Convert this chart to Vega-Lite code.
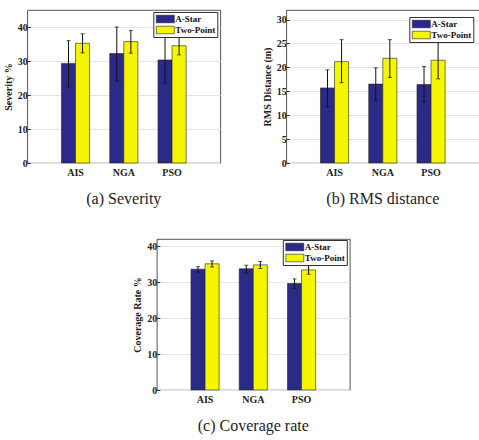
{
  "$schema": "https://vega.github.io/schema/vega-lite/v6.json",
  "padding": {"left": 2, "top": 9, "right": 0, "bottom": 0},
  "background": "white",
  "datasets": {
    "d": [
      {"panel": "a", "alg": "AIS", "series": "A-Star", "value": 29.3, "lo": 22.4, "hi": 36.0},
      {"panel": "a", "alg": "AIS", "series": "Two-Point", "value": 35.2, "lo": 32.4, "hi": 38.0},
      {"panel": "a", "alg": "NGA", "series": "A-Star", "value": 32.2, "lo": 24.1, "hi": 40.0},
      {"panel": "a", "alg": "NGA", "series": "Two-Point", "value": 35.7, "lo": 32.3, "hi": 39.0},
      {"panel": "a", "alg": "PSO", "series": "A-Star", "value": 30.3, "lo": 23.5, "hi": 37.1},
      {"panel": "a", "alg": "PSO", "series": "Two-Point", "value": 34.5, "lo": 31.8, "hi": 37.1},
      {"panel": "b", "alg": "AIS", "series": "A-Star", "value": 15.7, "lo": 11.8, "hi": 19.5},
      {"panel": "b", "alg": "AIS", "series": "Two-Point", "value": 21.2, "lo": 16.8, "hi": 25.8},
      {"panel": "b", "alg": "NGA", "series": "A-Star", "value": 16.5, "lo": 13.0, "hi": 19.9},
      {"panel": "b", "alg": "NGA", "series": "Two-Point", "value": 21.9, "lo": 17.9, "hi": 25.8},
      {"panel": "b", "alg": "PSO", "series": "A-Star", "value": 16.4, "lo": 12.75, "hi": 20.2},
      {"panel": "b", "alg": "PSO", "series": "Two-Point", "value": 21.5, "lo": 17.6, "hi": 25.4},
      {"panel": "c", "alg": "AIS", "series": "A-Star", "value": 33.6, "lo": 32.8, "hi": 34.3},
      {"panel": "c", "alg": "AIS", "series": "Two-Point", "value": 35.1, "lo": 34.2, "hi": 35.9},
      {"panel": "c", "alg": "NGA", "series": "A-Star", "value": 33.7, "lo": 32.5, "hi": 34.7},
      {"panel": "c", "alg": "NGA", "series": "Two-Point", "value": 34.8, "lo": 33.8, "hi": 35.75},
      {"panel": "c", "alg": "PSO", "series": "A-Star", "value": 29.6, "lo": 28.2, "hi": 30.9},
      {"panel": "c", "alg": "PSO", "series": "Two-Point", "value": 33.4, "lo": 32.2, "hi": 34.6}
    ]
  },
  "config": {
    "view": {"stroke": "#2a2a2a", "strokeWidth": 0.8},
    "axis": {
      "labelFont": "Liberation Serif", "labelFontWeight": "bold", "labelFontSize": 10, "labelColor": "#222",
      "titleFont": "Liberation Serif", "titleFontWeight": "bold", "titleFontSize": 10, "titleColor": "#222",
      "domain": false, "tickColor": "#2a2a2a", "labelOverlap": false
    },
    "axisX": {"grid": false, "ticks": false, "labelPadding": 4, "labelAngle": 0, "title": null},
    "axisY": {"grid": true, "gridColor": "#e4e4e4", "tickSize": -3, "labelPadding": 3, "titlePadding": 4},
    "legend": {
      "orient": "none", "fillColor": "white", "strokeColor": "#333", "padding": 2,
      "symbolType": "M-2,-0.84H2V0.84H-2Z", "symbolSize": 81, "symbolOffset": 5, "symbolStrokeColor": "#222", "symbolStrokeWidth": 0.6, "symbolOpacity": 1,
      "labelFont": "Liberation Serif", "labelFontWeight": "bold", "labelFontSize": 9, "labelColor": "#111",
      "rowPadding": 1, "labelOffset": 5, "title": null
    },
    "tick": {"color": "#111", "thickness": 1, "size": 4},
    "title": {"font": "Liberation Serif", "fontSize": 16, "fontWeight": "normal", "color": "#222", "orient": "bottom", "offset": 14}
  },
  "vconcat": [
    {
      "hconcat": [
        {
          "width": 193, "height": 153,
          "title": {"text": "(a) Severity"},
          "data": {"name": "d"},
          "transform": [{"filter": "datum.panel === 'a'"}],
          "encoding": {
            "x": {"field": "alg", "type": "nominal", "scale": {"paddingInner": 0.417, "paddingOuter": 0.708}},
            "xOffset": {"field": "series", "type": "nominal", "scale": {"paddingInner": 0, "paddingOuter": 0}}
          },
          "layer": [
            {
              "mark": {"type": "bar", "stroke": "#222", "strokeWidth": 0.6},
              "encoding": {
                "y": {"field": "value", "type": "quantitative", "scale": {"domain": [0, 45], "nice": false}, "axis": {"values": [0, 10, 20, 30, 40], "title": "Severity %"}},
                "color": {"field": "series", "type": "nominal", "scale": {"range": ["#2c2a88", "#f5f500"]}, "legend": {"legendX": 126, "legendY": 2}}
              }
            },
            {
              "mark": {"type": "rule", "color": "#111", "strokeWidth": 1},
              "encoding": {"y": {"field": "lo", "type": "quantitative", "axis": {"values": [0, 10, 20, 30, 40], "title": "Severity %"}}, "y2": {"field": "hi"}}
            },
            {"mark": "tick", "encoding": {"y": {"field": "lo", "type": "quantitative", "axis": {"values": [0, 10, 20, 30, 40], "title": "Severity %"}}}},
            {"mark": "tick", "encoding": {"y": {"field": "hi", "type": "quantitative", "axis": {"values": [0, 10, 20, 30, 40], "title": "Severity %"}}}}
          ]
        },
        {
          "width": 193, "height": 153,
          "title": {"text": "(b) RMS distance"},
          "data": {"name": "d"},
          "transform": [{"filter": "datum.panel === 'b'"}],
          "encoding": {
            "x": {"field": "alg", "type": "nominal", "scale": {"paddingInner": 0.417, "paddingOuter": 0.708}},
            "xOffset": {"field": "series", "type": "nominal", "scale": {"paddingInner": 0, "paddingOuter": 0}}
          },
          "layer": [
            {
              "mark": {"type": "bar", "stroke": "#222", "strokeWidth": 0.6},
              "encoding": {
                "y": {"field": "value", "type": "quantitative", "scale": {"domain": [0, 32], "nice": false}, "axis": {"values": [0, 5, 10, 15, 20, 25, 30], "title": "RMS Distance (m)"}},
                "color": {"field": "series", "type": "nominal", "scale": {"range": ["#2c2a88", "#f5f500"]}, "legend": {"legendX": 123, "legendY": 7}}
              }
            },
            {
              "mark": {"type": "rule", "color": "#111", "strokeWidth": 1},
              "encoding": {"y": {"field": "lo", "type": "quantitative", "axis": {"values": [0, 5, 10, 15, 20, 25, 30], "title": "RMS Distance (m)"}}, "y2": {"field": "hi"}}
            },
            {"mark": "tick", "encoding": {"y": {"field": "lo", "type": "quantitative", "axis": {"values": [0, 5, 10, 15, 20, 25, 30], "title": "RMS Distance (m)"}}}},
            {"mark": "tick", "encoding": {"y": {"field": "hi", "type": "quantitative", "axis": {"values": [0, 5, 10, 15, 20, 25, 30], "title": "RMS Distance (m)"}}}}
          ]
        }
      ],
      "spacing": 40,
      "resolve": {"scale": {"color": "independent"}, "legend": {"color": "independent"}}
    },
    {
      "width": 193, "height": 151,
      "title": {"text": "(c) Coverage rate"},
      "data": {"name": "d"},
      "transform": [{"filter": "datum.panel === 'c'"}],
      "encoding": {
        "x": {"field": "alg", "type": "nominal", "scale": {"paddingInner": 0.417, "paddingOuter": 0.708}},
        "xOffset": {"field": "series", "type": "nominal", "scale": {"paddingInner": 0, "paddingOuter": 0}}
      },
      "layer": [
        {
          "mark": {"type": "bar", "stroke": "#222", "strokeWidth": 0.6},
          "encoding": {
            "y": {"field": "value", "type": "quantitative", "scale": {"domain": [0, 42], "nice": false}, "axis": {"values": [0, 10, 20, 30, 40], "title": "Coverage Rate %"}},
            "color": {"field": "series", "type": "nominal", "scale": {"range": ["#2c2a88", "#f5f500"]}, "legend": {"legendX": 126, "legendY": 1}}
          }
        },
        {
          "mark": {"type": "rule", "color": "#111", "strokeWidth": 1},
          "encoding": {"y": {"field": "lo", "type": "quantitative", "axis": {"values": [0, 10, 20, 30, 40], "title": "Coverage Rate %"}}, "y2": {"field": "hi"}}
        },
        {"mark": "tick", "encoding": {"y": {"field": "lo", "type": "quantitative", "axis": {"values": [0, 10, 20, 30, 40], "title": "Coverage Rate %"}}}},
        {"mark": "tick", "encoding": {"y": {"field": "hi", "type": "quantitative", "axis": {"values": [0, 10, 20, 30, 40], "title": "Coverage Rate %"}}}}
      ]
    }
  ],
  "spacing": 30,
  "center": true,
  "resolve": {"scale": {"color": "independent"}, "legend": {"color": "independent"}}
}
